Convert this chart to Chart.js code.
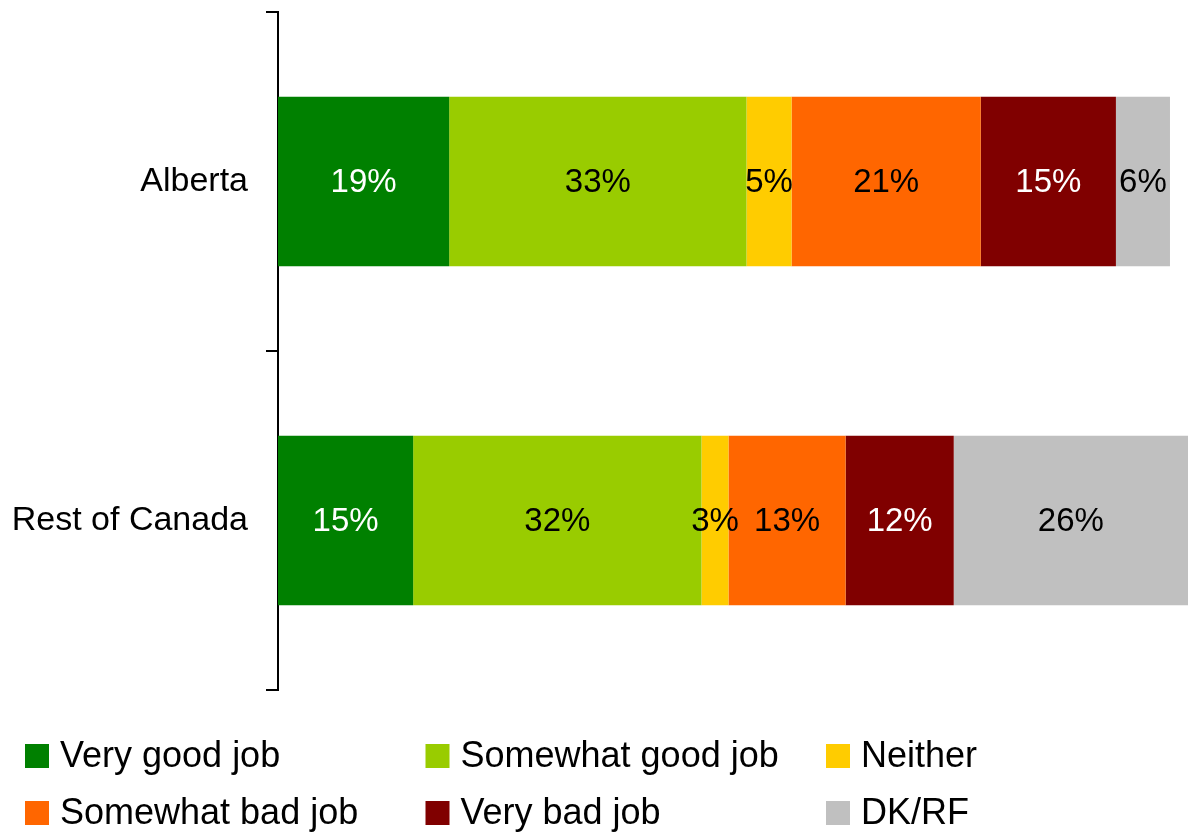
<!DOCTYPE html>
<html>
<head>
<meta charset="utf-8">
<script src="https://cdn.jsdelivr.net/npm/chart.js@4/dist/chart.umd.min.js"></script>
<style>
  body { margin: 0; background: #ffffff; }
  #wrap { width: 1188px; height: 832px; }
</style>
</head>
<body>
<div id="wrap">
  <canvas id="jobChart" width="1188" height="832"></canvas>
</div>
<script>
const regions = ['Alberta', 'Rest of Canada'];
const answers = ['Very good job', 'Somewhat good job', 'Neither', 'Somewhat bad job', 'Very bad job', 'DK/RF'];
const veryGood = [19, 15];
const somewhatGood = [33, 32];
const neither = [5, 3];
const somewhatBad = [21, 13];
const veryBad = [15, 12];
const dkrf = [6, 26];
const barColors = ['#008000', '#99cc00', '#ffcc00', '#ff6600', '#800000', '#c0c0c0'];
const labelColors = ['#ffffff', '#000000', '#000000', '#000000', '#ffffff', '#000000'];

const seriesValues = [veryGood, somewhatGood, neither, somewhatBad, veryBad, dkrf];
const FONT = '"Liberation Sans", Arial, Helvetica, sans-serif';

// percentages written in the middle of each segment
const valueLabels = {
  id: 'valueLabels',
  afterDatasetsDraw(chart) {
    const ctx = chart.ctx;
    ctx.save();
    ctx.font = '33px ' + FONT;
    ctx.textAlign = 'center';
    ctx.textBaseline = 'middle';
    chart.data.datasets.forEach((ds, i) => {
      chart.getDatasetMeta(i).data.forEach((bar, j) => {
        const p = bar.getProps(['x', 'y', 'base'], true);
        ctx.fillStyle = labelColors[i];
        ctx.fillText(ds.data[j] + '%', (p.x + p.base) / 2, p.y + 1);
      });
    });
    ctx.restore();
  }
};

// legend in three fixed columns, two rows
const gridLegend = {
  id: 'gridLegend',
  afterDraw(chart) {
    const ctx = chart.ctx;
    ctx.save();
    ctx.font = '36px ' + FONT;
    ctx.textAlign = 'left';
    ctx.textBaseline = 'middle';
    chart.data.datasets.forEach((ds, i) => {
      const x = 25 + (i % 3) * 400.5;
      const y = 744 + Math.floor(i / 3) * 57;
      ctx.fillStyle = ds.backgroundColor;
      ctx.fillRect(x, y, 24, 24);
      ctx.fillStyle = '#000000';
      ctx.fillText(ds.label, x + 35, y + 13);
    });
    ctx.restore();
  }
};

const ctx = document.getElementById('jobChart').getContext('2d');
new Chart(ctx, {
  type: 'bar',
  data: {
    labels: regions,
    datasets: answers.map((name, i) => ({
      label: name,
      data: seriesValues[i],
      backgroundColor: barColors[i],
      borderWidth: 0,
      categoryPercentage: 1,
      barPercentage: 0.5
    }))
  },
  options: {
    indexAxis: 'y',
    responsive: false,
    animation: false,
    devicePixelRatio: 1,
    layout: {
      padding: { top: 12, right: 0, bottom: 142, left: 0 }
    },
    scales: {
      x: {
        stacked: true,
        display: false,
        min: 0,
        max: 101
      },
      y: {
        stacked: true,
        afterFit(scale) {
          scale.width = 278;
          // no extra room for the first / last label
          scale.paddingTop = 0;
          scale.paddingBottom = 0;
        },
        grid: {
          offset: true,
          drawOnChartArea: false,
          drawTicks: true,
          tickLength: 12,
          color: '#000000',
          lineWidth: 2
        },
        border: { display: true, color: '#000000', width: 2 },
        ticks: {
          color: '#000000',
          padding: 18,
          font: { family: FONT, size: 34 }
        }
      }
    },
    plugins: {
      legend: { display: false },
      tooltip: { enabled: false }
    }
  },
  plugins: [valueLabels, gridLegend]
});
</script>
</body>
</html>
